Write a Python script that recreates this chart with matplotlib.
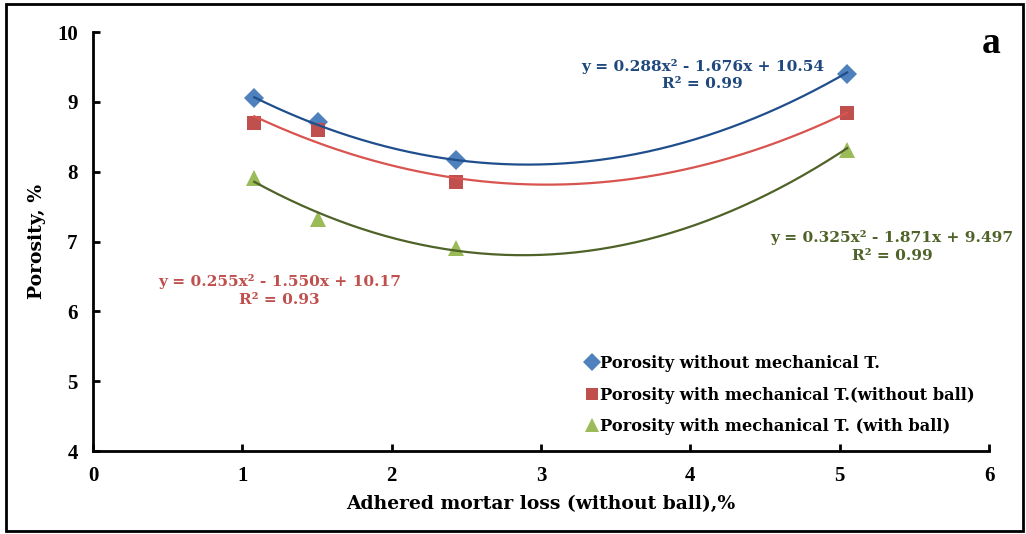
import numpy as np
import matplotlib
matplotlib.use("Agg")
import matplotlib.pyplot as plt
from matplotlib.patches import Rectangle
from matplotlib.font_manager import FontProperties

# ---- data ----
x_loss = [1.08, 1.51, 2.43, 5.05]
porosity_no_mech = [9.05, 8.71, 8.17, 9.40]
porosity_mech_no_ball = [8.70, 8.60, 7.85, 8.84]
porosity_mech_ball = [7.91, 7.32, 6.91, 8.31]

coef_no_mech = [0.288, -1.676, 10.54]
coef_mech_no_ball = [0.255, -1.550, 10.17]
coef_mech_ball = [0.325, -1.871, 9.497]

labels = ["Porosity without mechanical T.",
          "Porosity with mechanical T.(without ball)",
          "Porosity with mechanical T. (with ball)"]
eq_texts = ["y = 0.288x\u00b2 - 1.676x + 10.54\nR\u00b2 = 0.99",
            "y = 0.255x\u00b2 - 1.550x + 10.17\nR\u00b2 = 0.93",
            "y = 0.325x\u00b2 - 1.871x + 9.497\nR\u00b2 = 0.99"]

x_ticks = [0, 1, 2, 3, 4, 5, 6]
y_ticks = [4, 5, 6, 7, 8, 9, 10]

SERIF = ['Liberation Serif', 'DejaVu Serif']
WIDE = ['DejaVu Serif', 'Liberation Serif']
plt.rcParams['font.family'] = SERIF
plt.rcParams['font.weight'] = 'bold'

fig = plt.figure(figsize=(10.26, 5.34), dpi=100)
ax = fig.add_axes([0.0906, 0.1554, 0.8734, 0.7846])

marker_cols = ["#4F81BD", "#C0504D", "#9BBB59"]
line_cols = ["#1F4E8C", "#D9534F", "#4F6228"]
text_cols = ["#1F497D", "#C0504D", "#4F6228"]
markers = ["D", "s", "^"]
msizes = [10, 10, 11]
series = [porosity_no_mech, porosity_mech_no_ball, porosity_mech_ball]
coefs = [coef_no_mech, coef_mech_no_ball, coef_mech_ball]

xs = np.linspace(min(x_loss), max(x_loss), 200)
for c, lc in zip(coefs, line_cols):
    ax.plot(xs, np.polyval(c, xs), color=lc, lw=1.6, zorder=3)
for ys, m, ms, mc, lab in zip(series, markers, msizes, marker_cols, labels):
    ax.plot(x_loss, ys, linestyle='none', marker=m, markersize=ms, color=mc,
            markeredgewidth=0, label=lab, zorder=2)

ax.set_xlim(0, 6)
ax.set_ylim(4, 10)
tick_fp = FontProperties(family='Liberation Serif', weight='bold', size=15)
ax.set_xticks(x_ticks)
ax.set_xticklabels([str(v) for v in x_ticks], fontproperties=tick_fp)
ax.set_yticks(y_ticks)
ax.set_yticklabels([str(v) for v in y_ticks], fontproperties=tick_fp)
ax.tick_params(direction='in', length=5, width=2, pad=11)
ax.spines['top'].set_visible(False)
ax.spines['right'].set_visible(False)
ax.spines['left'].set_linewidth(2)
ax.spines['bottom'].set_linewidth(2)

ax.set_xlabel("Adhered mortar loss (without ball),%", fontsize=13.5, fontweight='bold',
              labelpad=6, family=WIDE)
ax.set_ylabel("Porosity, %", fontsize=13.5, fontweight='bold', labelpad=8, family=WIDE)

# equations
ax.text(4.08, 9.38, eq_texts[0], color=text_cols[0], fontsize=11.1, fontweight='bold',
        ha='center', va='center', linespacing=1.3, family=WIDE)
ax.text(1.25, 6.30, eq_texts[1], color=text_cols[1], fontsize=11.1, fontweight='bold',
        ha='center', va='center', linespacing=1.3, family=WIDE)
ax.text(5.35, 6.93, eq_texts[2], color=text_cols[2], fontsize=11.1, fontweight='bold',
        ha='center', va='center', linespacing=1.3, family=WIDE)

ax.text(6.075, 9.83, "a", fontsize=27, fontweight='bold', ha='right', va='center')

leg = ax.legend(loc='lower right', bbox_to_anchor=(1.0, 0.003), frameon=False,
                prop={'size': 11.7, 'weight': 'bold', 'family': WIDE}, handletextpad=0.0,
                handlelength=1.0, labelspacing=0.9, markerscale=0.9)

fig.patches.append(Rectangle((6/1026, 3/534), 1017/1026, 527/534, transform=fig.transFigure,
                             fill=False, edgecolor='black', lw=2))

fig.savefig("out.png", dpi=100)
